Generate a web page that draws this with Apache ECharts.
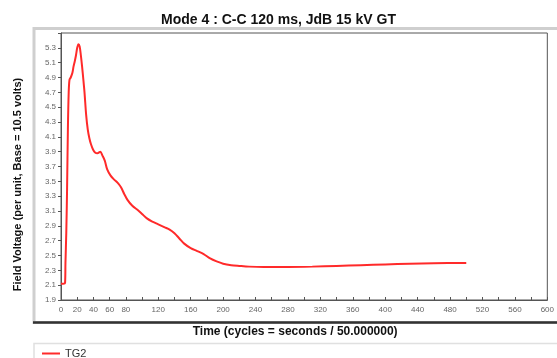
<!DOCTYPE html>
<html lang="en">
<head>
    <meta charset="UTF-8">
    <title>Mode 4</title>
    <script src="https://cdn.jsdelivr.net/npm/echarts@6/dist/echarts.min.js"></script>
    <style>
        body { margin: 0; background: #fff; }
        #main { width: 557px; height: 358px; }
    </style>
</head>
<body>
    <div id="main"></div>
    <script>
        // values
        const timeCycles = [0, 3, 5, 5.5, 6.5, 7.5, 8.5, 9.5, 10.5, 12, 14, 15.5, 17, 18.5, 20, 21.5, 23, 24.5, 26, 27.5,
            29, 31, 33, 35, 37, 39.5, 42, 45, 48.5, 51, 54, 57, 61, 65, 70, 74, 78, 82, 88, 95,
            100, 106, 112, 120, 128, 134, 140, 146, 152, 160, 168, 176, 184, 192, 200, 210, 220, 232, 250, 280,
            310, 340, 370, 400, 430, 460, 500]
        const fieldVoltage = [2.12, 2.12, 2.13, 2.4, 2.8, 3.4, 4.2, 4.7, 4.87, 4.9, 4.96, 5.05, 5.12, 5.2, 5.3, 5.35, 5.32, 5.2, 5.05, 4.88,
            4.7, 4.4, 4.2, 4.08, 4.0, 3.93, 3.89, 3.88, 3.9, 3.85, 3.78, 3.66, 3.58, 3.53, 3.48, 3.42, 3.33, 3.25, 3.17, 3.11,
            3.06, 3.0, 2.96, 2.92, 2.88, 2.85, 2.8, 2.73, 2.66, 2.6, 2.56, 2.52, 2.46, 2.42, 2.39, 2.37, 2.36, 2.35, 2.345, 2.345,
            2.35, 2.36, 2.37, 2.38, 2.39, 2.395, 2.4]
        const seriesName = 'TG2'

        let points = timeCycles.map((t, i) => [t, fieldVoltage[i]])

        let chart = echarts.init(document.getElementById('main'))
        let option = {
            animation: false,
            textStyle: { fontFamily: 'Liberation Sans' },
            title: {
                text: 'Mode 4 : C-C 120 ms, JdB 15 kV GT',
                left: 'center',
                top: 8,
                textStyle: { fontSize: 14, fontWeight: 'bold', color: '#111' }
            },
            // panel frame around the plot, the legend box below it
            graphic: [
                { type: 'rect', shape: { x: 34, y: 28.5, width: 530, height: 294 }, style: { fill: 'none', stroke: '#cfcfcf', lineWidth: 3 }, silent: true },
                { type: 'line', shape: { x1: 33, y1: 322.5, x2: 557, y2: 322.5 }, style: { stroke: '#333', lineWidth: 2.5 }, silent: true },
                { type: 'polyline', shape: { points: [[34, 358], [34, 343.5], [557, 343.5]] }, style: { stroke: '#e0e0e0', lineWidth: 1.5, fill: 'none' }, silent: true }
            ],
            legend: {
                left: 37,
                top: 343,
                icon: 'rect',
                itemWidth: 18,
                itemHeight: 2,
                itemGap: 4,
                textStyle: { fontSize: 11, color: '#333' },
                data: [seriesName]
            },
            grid: {
                left: 61,
                right: 6,
                top: 33,
                bottom: 58,
                show: true,
                borderColor: '#555',
                borderWidth: 1
            },
            xAxis: {
                type: 'value',
                min: 0,
                max: 600,
                interval: 20,
                name: 'Time (cycles = seconds / 50.000000)',
                nameLocation: 'middle',
                nameGap: 26,
                nameTextStyle: { fontSize: 12, fontWeight: 'bold', color: '#111', padding: [0, 18, 0, 0] },
                axisLine: { lineStyle: { color: '#555' } },
                axisTick: { inside: true, length: 3, lineStyle: { color: '#555' } },
                splitLine: { show: false },
                axisLabel: {
                    fontSize: 8,
                    color: '#666',
                    margin: 6,
                    formatter: v => (v <= 80 || v % 40 === 0) ? String(v) : ''
                }
            },
            yAxis: {
                type: 'value',
                min: 1.9,
                max: 5.5,
                interval: 0.2,
                name: 'Field Voltage (per unit, Base = 10.5 volts)',
                nameLocation: 'middle',
                nameGap: 38,
                nameTextStyle: { fontSize: 11, fontWeight: 'bold', color: '#111', padding: [0, 36, 0, 0] },
                axisLine: { show: true, lineStyle: { color: '#555' } },
                axisTick: { show: true, length: 3, lineStyle: { color: '#555' } },
                splitLine: { show: false },
                axisLabel: {
                    fontSize: 8,
                    color: '#666',
                    margin: 5,
                    formatter: v => v > 5.4 ? '' : v.toFixed(1)
                }
            },
            series: [
                {
                    name: seriesName,
                    type: 'line',
                    data: points,
                    showSymbol: false,
                    smooth: 0.3,
                    color: '#ff2a2a',
                    lineStyle: { width: 2, color: '#ff2a2a' }
                }
            ]
        }
        chart.setOption(option)
    </script>
</body>
</html>
